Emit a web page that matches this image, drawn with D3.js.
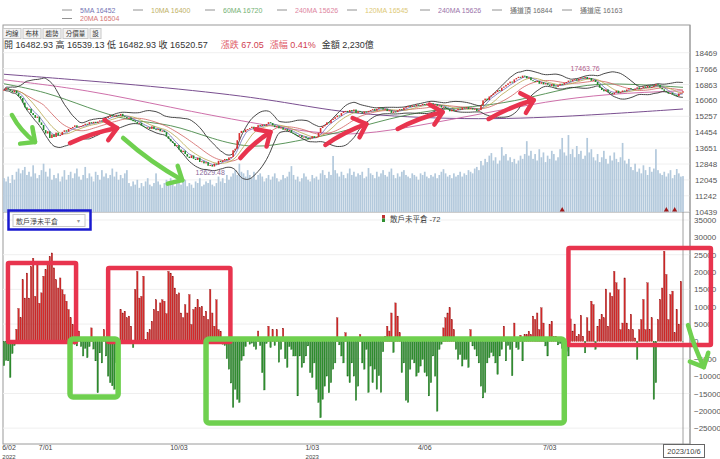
<!DOCTYPE html>
<html><head><meta charset="utf-8">
<script src="https://cdn.jsdelivr.net/npm/d3@7"></script>
<style>body{margin:0;background:#fff}svg{display:block}text{font-family:'Liberation Sans','Noto Sans CJK TC',sans-serif}</style>
</head><body><svg id="c" width="720" height="459"></svg>
<script>
// ---------------- DATA ----------------
const closes=[16600,16680,16620,16540,16470,16560,16420,16280,16180,15950,15710,15575,15640,15420,15320,15180,15240,14950,14820,14560,
14390,14500,14160,14340,14210,14430,14280,14310,14470,14550,14480,14620,14665,14720,14800,14690,14740,14765,14820,14880,
14850,14960,14900,14980,14915,14990,15050,15010,15110,15170,15230,15310,15250,15270,15330,15290,15380,15260,15220,15150,
15190,15080,15010,14970,14890,14930,14780,14720,14665,14700,14620,14750,14610,14560,14620,14500,14530,14460,14250,14120,
13990,13910,13750,13800,13580,13450,13520,13350,13220,13150,13280,13110,13050,13170,12950,12990,12880,12940,12760,12800,
12720,12870,12820,13010,12950,13030,13100,13050,13180,13200,13540,13620,14050,14410,14520,14460,14590,14610,14660,14730,
14620,14700,14810,14765,14840,14780,14870,14960,14915,14800,14710,14760,14650,14690,14580,14610,14520,14560,14430,14380,
14310,14250,14300,14190,14230,14160,14090,14140,14250,14170,14210,14420,14665,14750,14820,14950,14910,15070,15130,15210,
15300,15280,15420,15490,15530,15460,15570,15510,15600,15430,15520,15470,15400,15500,15460,15530,15570,15620,15540,15630,
15700,15670,15600,15640,15520,15560,15430,15500,15470,15560,15620,15580,15690,15720,15780,15730,15800,15760,15850,15790,
15820,15880,15830,15900,15850,15920,15840,15870,15790,15810,15700,15740,15670,15620,15510,15600,15530,15570,15640,15590,
15700,15650,15720,15620,15670,15600,15640,15520,15570,15810,16060,16150,16080,16260,16330,16410,16480,16580,16540,16700,
16760,16840,16920,17010,16960,17120,17190,17250,17200,17310,17290,17180,17220,17080,17040,16990,17050,16900,16980,16870,
16930,16850,16790,16880,16760,16740,16820,16900,16860,16950,16990,17060,17020,17100,17130,17060,17150,17210,17180,17240,
17140,17190,17050,17100,16990,16850,16700,16585,16520,16610,16480,16430,16370,16450,16550,16420,16480,16560,16520,16610,
16680,16630,16590,16650,16720,16640,16680,16760,16700,16790,16710,16740,16800,16880,16840,16700,16620,16540,16480,16400,
16450,16360,16330,16280,16410,16450,16520];
const volumes=[2100,1900,2200,1800,2300,2000,2500,2700,2400,2600,2800,2300,2500,2200,2900,2400,2100,2300,2600,3000,
2500,2200,2700,2000,2300,2100,2400,1900,2200,2600,2000,2300,2500,2100,2400,2700,2200,2000,2300,2800,
2100,2400,2200,1900,2500,2300,2000,2600,2200,2400,2100,2300,2700,2200,2500,2000,2300,2100,2400,2600,
1800,1600,1900,1700,2000,1500,1800,1600,1900,2100,1700,1600,1800,2400,1900,1700,1500,1800,2000,1700,
2100,1900,1600,1800,2200,1700,1900,2000,1600,1800,1700,1500,1900,1800,2100,1600,1700,1900,1800,2000,
1700,1600,1800,2200,1900,2100,1800,2300,2000,2200,
2400,2600,2300,3000,2500,2400,2200,2600,2300,2100,2500,2000,2300,2400,2200,1900,2100,2300,2000,2200,
2400,2100,1900,2000,2300,2100,2200,2500,2850,2300,2000,2200,1900,2100,2400,2200,2000,1900,2300,2100,
2200,2000,2400,2600,2300,2100,2500,2300,3480,2600,2400,2200,2500,2300,2100,2400,2700,2300,2500,2200,2400,
2300,2500,2100,2200,2730,2400,2300,2100,2500,2200,2400,2600,2300,2200,2500,2700,2300,2100,2400,2200,
2500,2600,2300,2200,2100,2400,2300,2200,2000,2400,2300,2500,2200,2100,2300,2200,2400,2100,2300,2500,
2660,2400,2200,2300,2100,2400,2200,2300,2500,2200,2400,2300,2600,2500,2400,2700,2800,2600,3170,2900,
3300,3100,3500,3660,3200,3400,3000,3200,4030,3500,3600,3200,3400,3100,3300,3000,3200,3500,3300,3600,
4400,3500,3800,3300,3600,3200,3900,3400,3700,3100,3500,3300,3800,3600,3200,3400,3900,4600,3700,3500,
4780,3600,3900,3400,4100,3600,3800,3300,3500,4600,3700,3900,3400,3200,3600,3100,3400,3800,3300,3000,
3500,3200,3700,3300,3100,3400,4290,3200,3000,3300,
2800,2600,3000,2500,2700,2400,2900,2600,2300,2800,2500,2700,3900,2600,2400,2300,2500,2200,2400,2600,
2100,2300,2670,2400,2200,2230];
const retailOI=[-7000,-5500,-5600,-10400,-3500,-1200,3500,9500,6800,17800,12500,19700,12500,21600,24000,13000,23000,11000,14000,18800,
20700,22600,24500,25500,21200,17800,15400,18300,14900,13500,11600,9200,6800,4900,-800,-1300,3000,-1500,-4200,-2000,
-4700,-1500,3900,-2200,-5600,-14800,-3300,-6200,3400,-4200,-10000,-11900,-12800,-13800,-6100,-2000,9200,8200,8700,6800,
7300,4400,-1800,15000,20200,12500,13000,18800,600,2500,3400,5800,9200,12000,8700,11100,12000,11600,8000,20200,
19700,18800,15400,13500,14000,8200,6800,10600,8200,13500,4900,9200,9700,12000,9700,10100,7300,8700,6300,15000,
8200,4400,12000,3400,2900,-800,-1200,-5000,-8000,-12000,-19000,-13800,-16700,-17600,-5500,-4200,-1500,1000,-800,-500,
-1500,-2300,3000,-1200,-9000,-14000,-600,4400,-1800,3400,-1200,3400,-6000,-2300,3800,-5000,-7500,-1500,-2300,-4200,
-4200,-15700,-4200,-7500,-6200,-4200,-1300,-9000,-10400,-6200,-13800,-17600,-22000,-16700,-12900,-10000,-14800,-11900,-8000,-6200,
6800,-1000,-4200,-6200,2500,-10000,-11900,-6200,-10000,-17000,-12900,2000,-6200,-8000,-2300,-14700,-7100,-11900,-8000,-13800,
-9900,-14700,-3000,1500,4400,3000,8200,-3200,11100,7300,2500,-9000,-6200,-17000,-17600,-8000,-5200,-6200,-10000,-9000,
-7100,-5200,-9000,-10000,-15700,-11900,-4200,-10000,-20100,-2300,-800,3900,6800,8200,9700,6300,3400,-2300,-5200,-3800,
-7100,-5200,-5200,-7500,3400,-1300,-2300,-4200,-6200,-12900,-16300,-14700,-6200,-4700,-3200,-4200,-6200,-9500,-4200,-2300,
4400,-5600,-1200,-2300,-9900,5300,-1800,-2300,1800,-5600,2000,2000,2900,2000,7300,6300,8200,3400,9700,5300,
-1300,-4200,4900,5800,1500,1500,-1000,-600,-2000,-5200,-3000,-4200,6500,3000,5000,1500,2000,7500,1500,-3300,
6800,3000,11600,10600,-2300,4400,6300,7800,6800,15100,4400,14000,13000,20200,16900,14900,3400,5300,18300,5300,
3400,7800,3400,1000,-5200,3400,6300,12100,3400,16900,3400,6800,-16700,-11900,6300,12100,15400,26000,19300,6300,
13500,14500,2500,9200,5000,17300,-72];
// sparse long moving averages: [bar index, value]
const ma60Pts=[[0,16900],[20,16500],[40,15700],[60,15000],[80,14900],[100,14100],[120,13600],[140,14000],[160,14400],[180,15000],[200,15500],[220,15700],[240,15900],[260,16400],[280,16900],[300,16900],[326,16720]];
const ma120Pts=[[0,17100],[40,16600],[80,15700],[120,14900],[150,14400],[171,14300],[200,14800],[230,15400],[260,16000],[290,16400],[326,16545]];
const ma240Pts=[[0,17380],[56,16930],[113,16330],[142,15830],[171,15320],[229,15050],[280,15300],[326,15626]];
const priceTicks=[18469,17666,16863,16060,15257,14454,13651,12848,12045,11242,10439];
const oiTicks=[35000,30000,25000,20000,15000,10000,5000,0,-5000,-10000,-15000,-20000,-25000];
const dateTicks=[[0,'6/02','2022'],[20,'7/01',''],[84,'10/03',''],[148,'1/03','2023'],[202,'4/06',''],[262,'7/03','']];
const lastDate='2023/10/6';
const markIdx=[268,318,322];
const lowMark=[99,12629.48], highMark=[279,17463.76];
const legendRow1=[['5MA 16452','#5b5ba8'],['10MA 16400','#b5a54a'],['60MA 16720','#5aa55a'],['240MA 15626','#d87090'],['120MA 16545','#d8c060'],['240MA 15626','#8a5a9a'],['通道頂 16844','#555'],['通道底 16163','#555']];
const legendRow2=[['20MA 16504','#d06060']];
const toolButtons=['均線','布林','趨勢','分價量','設'];
const infoBlack='開 16482.93 高 16539.13 低 16482.93 收 16520.57';
const infoRed=[['漲跌',' 67.05'],['漲幅',' 0.41%']];
const infoAmt='金額 2,230億';
const oiName='散戶未平倉', oiSelect='散戶淨未平倉';
// annotations in data units
const redBoxes=[[1.9,34.6,22600,-200],[50,108.7,21200,-200],[271,339.4,26900,-1000]];
const greenBoxes=[[31.7,54.8,700,-16000],[97,269,700,-23500]];
const redArrows=[[31.7,13904,54.3,14662],[113.5,13151,127.9,14464],[154.3,13808,174,14869],[189,14616,210.6,15474],[232.7,15120,254.3,16080]];
const greenArrows=[[3.8,15322,14.9,13959],[57.2,14161,85.6,12035]];
const greenArrowOI=[[328.4,4700,336,-7400]];

// ---------------- SCALES ----------------
const N=closes.length;
const svg=d3.select('#c');
const L=3,R=690,T=25,MID=212,B=444;
const xs=d3.scaleLinear().domain([0,N-1]).range([4,683]);
const yP=d3.scaleLinear().domain([10439,18469]).range([211.7,52.7]);
const yV=d3.scaleLinear().domain([0,7000]).range([MID,99.3]);
const yO=d3.scaleLinear().domain([-30000,35000]).range([445.5,220]);

const defs=svg.append('defs');
defs.append('clipPath').attr('id','cm').append('rect').attr('x',L).attr('y',T).attr('width',R-L).attr('height',MID-T);
defs.append('clipPath').attr('id','cl').append('rect').attr('x',L).attr('y',MID).attr('width',R-L).attr('height',B-MID);

// legend
const lg=svg.append('g').attr('font-size',7);
function legendRow(items,y,xsArr){
  items.forEach((d,k)=>{
    const x=xsArr[k];
    lg.append('line').attr('x1',x).attr('x2',x+10).attr('y1',y-2.5).attr('y2',y-2.5).attr('stroke','#777').attr('stroke-width',0.8);
    lg.append('text').attr('x',x+18).attr('y',y).attr('fill',d[1]).attr('opacity',0.85).text(d[0]);
  });
}
legendRow(legendRow1,12.5,[62,133,205,277,347,420,492,562]);
legendRow(legendRow2,21,[62]);

// frame
svg.append('rect').attr('x',L).attr('y',T).attr('width',R-L).attr('height',B-T).attr('fill','none').attr('stroke','#9a9a9a');
svg.append('line').attr('x1',L).attr('x2',R).attr('y1',MID).attr('y2',MID).attr('stroke','#9a9a9a');

// toolbar
let bx=3;
const tb=svg.append('g');
toolButtons.forEach(t=>{
  const w=t.length*7+4;
  tb.append('rect').attr('x',bx).attr('y',28.5).attr('width',w).attr('height',10).attr('fill','#f3f3f3').attr('stroke','#c8c8c8');
  tb.append('text').attr('x',bx+w/2).attr('y',36.3).attr('text-anchor','middle').attr('font-size',6.5).attr('fill','#333').text(t);
  bx+=w+2;
});
// info line
const info=svg.append('text').attr('x',4).attr('y',48).attr('font-size',9).attr('fill','#333');
info.append('tspan').text(infoBlack);
infoRed.forEach((d,k)=>{info.append('tspan').attr('dx',k?6:13).attr('fill','#e05a6a').text(d[0]);info.append('tspan').attr('fill','#d04050').text(d[1]);});
info.append('tspan').attr('dx',6).attr('fill','#333').text(infoAmt);

// grid
const gm=svg.append('g').attr('clip-path','url(#cm)');
gm.selectAll('.gp').data(priceTicks).join('line').attr('x1',L).attr('x2',R).attr('y1',d=>yP(d)).attr('y2',d=>yP(d)).attr('stroke','#f0f0f0');
const gl=svg.append('g').attr('clip-path','url(#cl)');
gl.selectAll('.go').data(oiTicks.filter(d=>Math.abs(d/5000)%2===1)).join('line').attr('x1',L).attr('x2',R).attr('y1',d=>yO(d)).attr('y2',d=>yO(d)).attr('stroke','#efefef');

// volume
gm.selectAll('.v').data(volumes).join('rect').attr('x',(d,i)=>xs(i)-0.85).attr('width',1.7).attr('y',d=>yV(d)).attr('height',d=>MID-yV(d)).attr('fill','#b3c9dc');

// MAs
const sma=n=>closes.map((c,i)=>d3.mean(closes.slice(Math.max(0,i-n+1),i+1)));
const bb=closes.map((c,i)=>{const s=closes.slice(Math.max(0,i-19),i+1);const m=d3.mean(s);const sd=s.length>1?d3.deviation(s):0;return [m+2*sd,m-2*sd];});
const line=d3.line().x((d,i)=>xs(i)).y(d=>yP(d)).curve(d3.curveBasis);
const lineK=d3.line().x(d=>xs(d[0])).y(d=>yP(d[1])).curve(d3.curveBasis);
gm.append('path').attr('d',lineK(ma240Pts)).attr('fill','none').attr('stroke','#7a4f90').attr('stroke-width',1);
gm.append('path').attr('d',lineK(ma120Pts)).attr('fill','none').attr('stroke','#c860a0').attr('stroke-width',0.9);
gm.append('path').attr('d',lineK(ma60Pts)).attr('fill','none').attr('stroke','#4a8a4a').attr('stroke-width',0.9);
gm.append('path').attr('d',line(sma(20))).attr('fill','none').attr('stroke','#d06060').attr('stroke-width',0.8);
gm.append('path').attr('d',line(sma(10))).attr('fill','none').attr('stroke','#b5a54a').attr('stroke-width',0.8);
gm.append('path').attr('d',line(sma(5))).attr('fill','none').attr('stroke','#6a6ab8').attr('stroke-width',0.8);
gm.append('path').attr('d',line(bb.map(d=>d[0]))).attr('fill','none').attr('stroke','#333').attr('stroke-width',0.9);
gm.append('path').attr('d',line(bb.map(d=>d[1]))).attr('fill','none').attr('stroke','#333').attr('stroke-width',0.9);

// candles
gm.selectAll('.k').data(closes).join('rect')
  .attr('x',(d,i)=>xs(i)-0.8).attr('width',1.6)
  .attr('y',(d,i)=>Math.min(yP(d),yP(i?closes[i-1]:d)))
  .attr('height',(d,i)=>Math.max(1,Math.abs(yP(d)-yP(i?closes[i-1]:d))))
  .attr('fill',(d,i)=>(i&&d<closes[i-1])?'#1f8a2a':'#d83030');

// low / high labels
gm.append('text').attr('x',xs(lowMark[0])).attr('y',yP(lowMark[1])+7).attr('text-anchor','middle').attr('font-size',7).attr('fill','#8a6a9a').text(lowMark[1].toFixed(2));
gm.append('text').attr('x',xs(highMark[0])).attr('y',yP(highMark[1])-2).attr('text-anchor','middle').attr('font-size',7).attr('fill','#b05a8a').text(highMark[1].toFixed(2));

// event markers
gm.selectAll('.m').data(markIdx).join('path').attr('d',i=>`M${xs(i)-2.5},${MID-0.5}L${xs(i)+2.5},${MID-0.5}L${xs(i)},${MID-5}Z`).attr('fill','#a01818');

// price axis
const ax=svg.append('g').attr('transform',`translate(${R},0)`).call(d3.axisRight(yP).tickValues(priceTicks).tickSize(0).tickPadding(5).tickFormat(d3.format('d')));
ax.select('.domain').remove();
ax.selectAll('text').attr('font-size',8).attr('fill','#555');
svg.append('line').attr('x1',R).attr('x2',R).attr('y1',T).attr('y2',B).attr('stroke','#9a9a9a');

// lower panel bars
gl.selectAll('.o').data(retailOI).join('rect')
  .attr('x',(d,i)=>xs(i)-0.75).attr('width',1.5)
  .attr('y',d=>Math.min(yO(d),yO(0))).attr('height',d=>Math.abs(yO(d)-yO(0)))
  .attr('fill',d=>d>=0?'#d42a2a':'#2f8f2f').attr('stroke',d=>d>=0?'#8a1a1a':'#1f6a1f').attr('stroke-width',0.3);
gl.append('line').attr('x1',xs(N-1)).attr('x2',xs(N-1)).attr('y1',MID).attr('y2',B).attr('stroke','#888').attr('stroke-width',0.8);

const ax2=svg.append('g').attr('transform',`translate(${R},0)`).call(d3.axisRight(yO).tickValues(oiTicks).tickSize(0).tickPadding(4).tickFormat(d3.format('d')));
ax2.select('.domain').remove();
ax2.selectAll('text').attr('font-size',8).attr('fill','#555');

// lower legend + dropdown
svg.append('rect').attr('x',382).attr('y',215).attr('width',3).attr('height',3.5).attr('fill','#c03030');
svg.append('rect').attr('x',382).attr('y',218.5).attr('width',3).attr('height',3.5).attr('fill','#2f8f2f');
svg.append('text').attr('x',390).attr('y',222).attr('font-size',7.5).attr('fill','#444').text(oiName+' '+retailOI[N-1]);
svg.append('rect').attr('x',13).attr('y',214.5).attr('width',72).attr('height',12).attr('fill','#fff').attr('stroke','#c8c8c8');
svg.append('text').attr('x',16).attr('y',223.5).attr('font-size',7).attr('fill','#444').text(oiSelect);
svg.append('text').attr('x',77).attr('y',223).attr('font-size',6).attr('fill','#999').text('▾');
svg.append('rect').attr('x',8.5).attr('y',210.5).attr('width',82).attr('height',19).attr('fill','none').attr('stroke','#1a1ad0').attr('stroke-width',2.5);

// date axis
const dg=svg.append('g').attr('font-size',7).attr('fill','#444').attr('text-anchor','middle');
dateTicks.forEach(d=>{dg.append('text').attr('x',Math.max(xs(d[0]),9)).attr('y',450).text(d[1]); if(d[2]) dg.append('text').attr('x',Math.max(xs(d[0]),9)).attr('y',458.5).attr('font-size',6).text(d[2]);});
svg.append('rect').attr('x',xs(N-1)-19.5).attr('y',444.5).attr('width',41).attr('height',13).attr('fill','#fff').attr('stroke','#666');
svg.append('text').attr('x',xs(N-1)+1).attr('y',454).attr('font-size',7.5).attr('fill','#444').attr('text-anchor','middle').text(lastDate);

// annotations
const RED='#e8344e', GRN='#6fd04f';
function box(b,col,w,r){svg.append('rect').attr('x',xs(b[0])).attr('y',yO(b[2])).attr('width',xs(b[1])-xs(b[0])).attr('height',yO(b[3])-yO(b[2])).attr('rx',r).attr('fill','none').attr('stroke',col).attr('stroke-width',w);}
redBoxes.forEach(b=>box(b,RED,4.5,1));
greenBoxes.forEach(b=>box(b,GRN,5.5,3));
function arrow(p0,p1,col,bend){
  const dx=p1[0]-p0[0],dy=p1[1]-p0[1];const len=Math.hypot(dx,dy);
  const cx=(p0[0]+p1[0])/2 - dy/len*bend, cy=(p0[1]+p1[1])/2 + dx/len*bend;
  const g=svg.append('g').attr('fill','none').attr('stroke',col).attr('stroke-width',4.5).attr('stroke-linecap','round').attr('stroke-linejoin','round');
  g.append('path').attr('d',`M${p0[0]},${p0[1]}Q${cx},${cy} ${p1[0]},${p1[1]}`);
  const a=Math.atan2(p1[1]-cy,p1[0]-cx), hl=Math.min(15,len*0.45);
  const h1=[p1[0]-hl*Math.cos(a-0.75),p1[1]-hl*Math.sin(a-0.75)], h2=[p1[0]-hl*Math.cos(a+0.75),p1[1]-hl*Math.sin(a+0.75)];
  g.append('path').attr('d',`M${h1[0]},${h1[1]}L${p1[0]},${p1[1]}L${h2[0]},${h2[1]}`);
}
redArrows.forEach(d=>arrow([xs(d[0]),yP(d[1])],[xs(d[2]),yP(d[3])],RED,-3));
greenArrows.forEach(d=>arrow([xs(d[0]),yP(d[1])],[xs(d[2]),yP(d[3])],GRN,4));
greenArrowOI.forEach(d=>arrow([xs(d[0]),yO(d[1])],[xs(d[2]),yO(d[3])],GRN,2));
</script></body></html>
